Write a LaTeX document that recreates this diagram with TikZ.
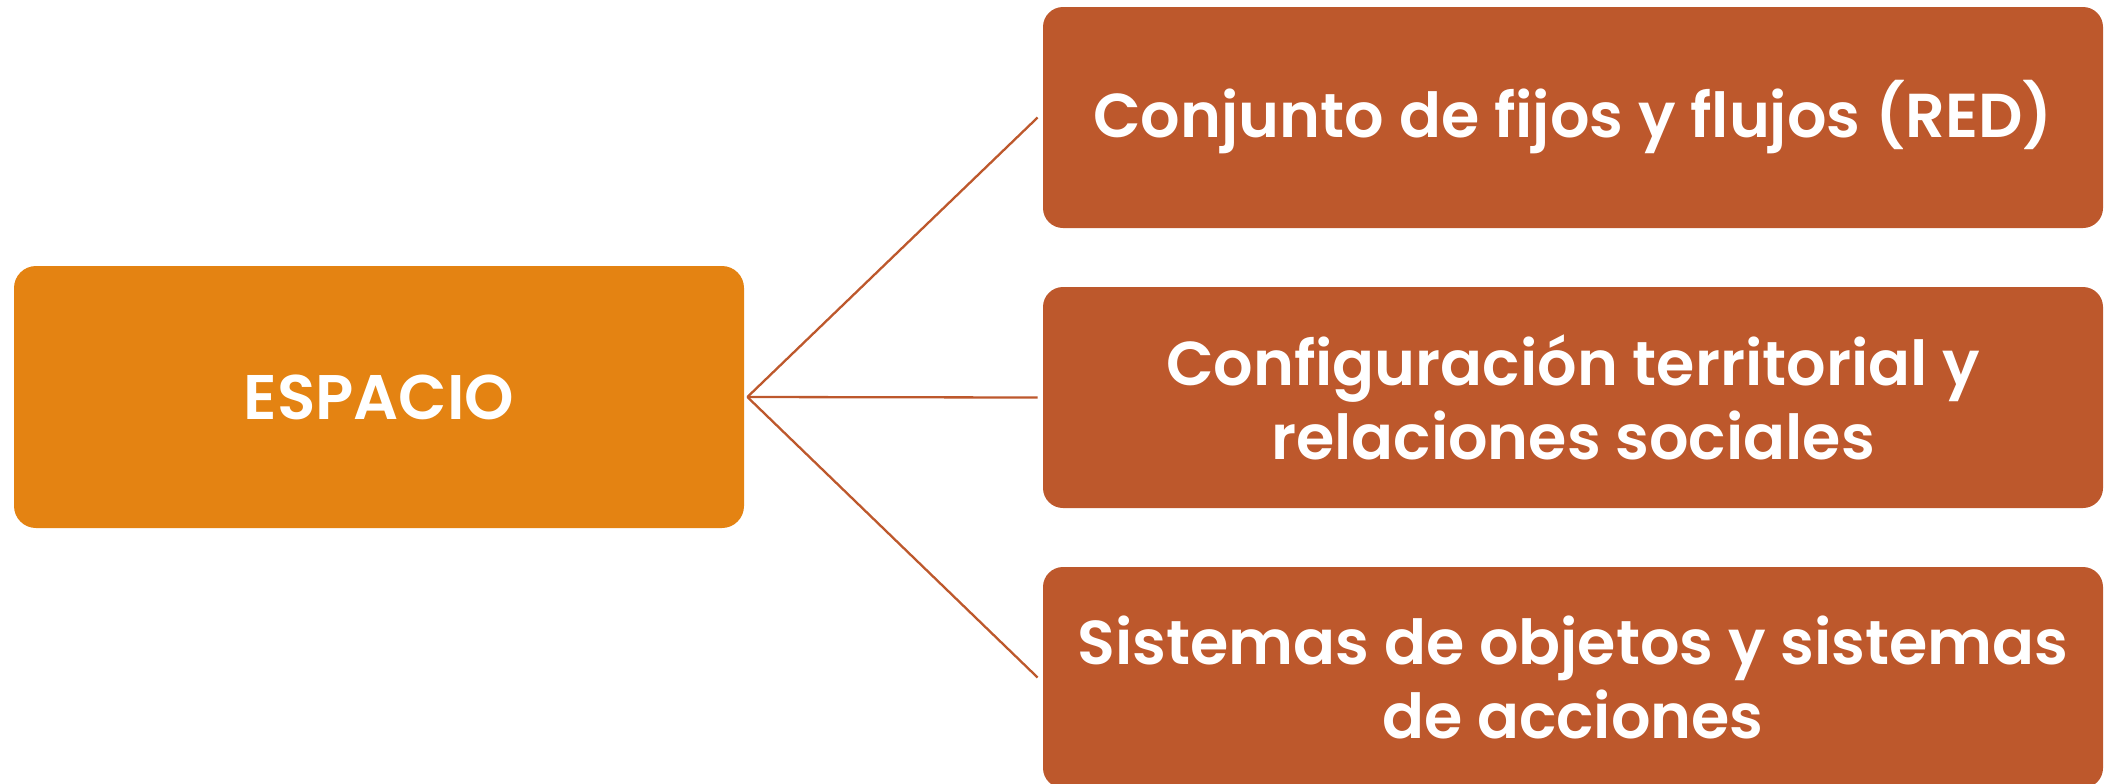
\documentclass[tikz,border=0pt]{standalone}
\usepackage{fontspec}
\setmainfont{Poppins}[BoldFont={Poppins SemiBold}]
\definecolor{orangebox}{HTML}{E48312}
\definecolor{rustbox}{HTML}{BD582C}
\tikzset{
  px/.style={x=0.5pt,y=-0.5pt},
  mainbox/.style={rectangle, rounded corners=11pt, fill=orangebox, draw=none,
    minimum width=365pt, minimum height=131pt, text=white,
    font=\fontsize{31.5}{37}\selectfont\bfseries, align=center, inner sep=0pt},
  subbox/.style={rectangle, rounded corners=10pt, fill=rustbox, draw=none,
    minimum width=530pt, minimum height=110.5pt, text=white,
    font=\fontsize{31}{37}\selectfont\bfseries, align=center, inner sep=0pt},
  link/.style={draw=rustbox, line width=1.15pt}
}
\begin{document}
\begin{tikzpicture}[px]
\useasboundingbox (0,0) rectangle (2104,783);
\node[mainbox] (esp) at (379,397) {ESPACIO};
\node[subbox] (r1) at (1573,117.5) {Conjunto de fijos y flujos (RED)};
\node[subbox] (r2) at (1573,397.5) {Configuración territorial y\\relaciones sociales};
\node[subbox] (r3) at (1573,677.5) {Sistemas de objetos y sistemas\\de acciones};
\coordinate (fan) at ([xshift=1.5pt]esp.east);
\draw[link] (fan) -- ([xshift=-2.5pt]r1.west);
\draw[link] (fan) -- ([xshift=-2.5pt]r2.west);
\draw[link] (fan) -- ([xshift=-2.5pt]r3.west);
\end{tikzpicture}
\end{document}
